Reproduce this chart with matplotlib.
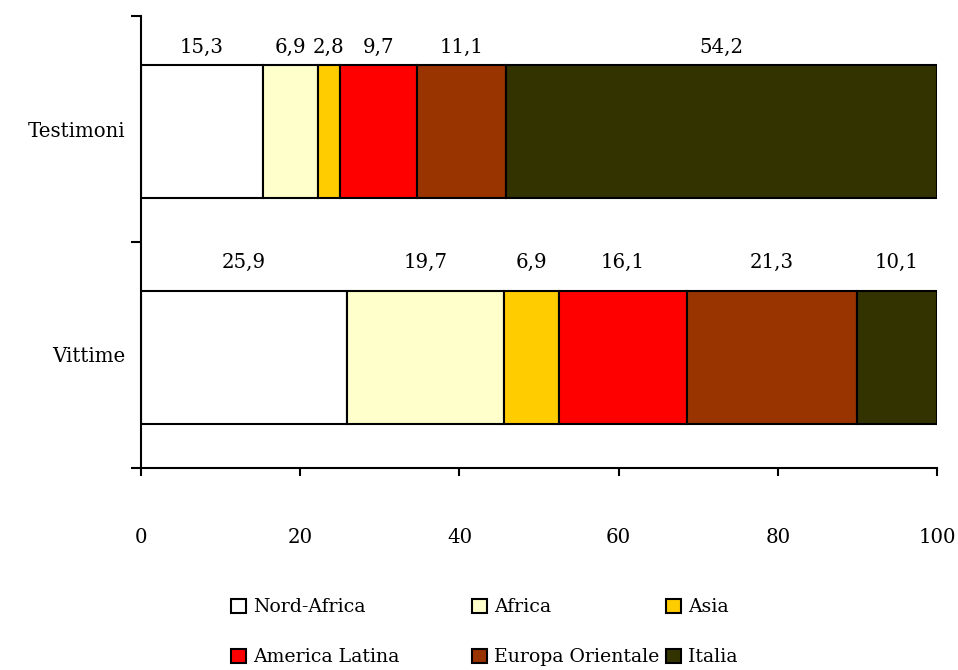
import numpy as np
import matplotlib
matplotlib.use('Agg')
import matplotlib.pyplot as plt

# data -------------------------------------------------------------------------
groups = ['Testimoni', 'Vittime']
regions = ['Nord-Africa', 'Africa', 'Asia', 'America Latina',
           'Europa Orientale', 'Italia']
testimoni = [15.3, 6.9, 2.8, 9.7, 11.1, 54.2]
vittime = [25.9, 19.7, 6.9, 16.1, 21.3, 10.1]
colors = ['#FFFFFF', '#FFFFCC', '#FFCC00', '#FF0000', '#993300', '#333300']

plt.rcParams['font.family'] = ['DejaVu Serif']
plt.rcParams['font.size'] = 14.2

values = np.array([testimoni, vittime])   # rows = groups, cols = regions
ypos = np.arange(len(groups))

fig = plt.figure(figsize=(9.58, 6.70), dpi=100)
ax = fig.add_axes([0.1472, 0.3015, 0.831, 0.6746])

left = np.zeros(len(groups))
bars = []
for j, reg in enumerate(regions):
    b = ax.barh(ypos + 0.01, values[:, j], left=left, height=0.59,
                color=colors[j], edgecolor='black', linewidth=1.5,
                label=reg, zorder=2)
    bars.append(b)
    # value labels above each segment
    for i in range(len(groups)):
        off = -0.36 if i == 0 else -0.41
        ax.text(left[i] + values[i, j] / 2, ypos[i] + off,
                f'{values[i, j]:.1f}'.replace('.', ','),
                ha='center', va='center')
    left = left + values[:, j]

ax.set_xlim(0, 100)
ax.set_ylim(1.5, -0.5)
ax.set_xticks(np.arange(0, 101, 20))
ax.tick_params(axis='x', direction='out', length=6, width=1.5, pad=37)

# category boundaries as major ticks, names on minor ticks
ax.set_yticks([-0.5, 0.5, 1.5])
ax.set_yticklabels([])
ax.set_yticks(ypos, minor=True)
ax.set_yticklabels(groups, minor=True)
ax.tick_params(axis='y', which='major', direction='out', length=7, width=1.5)
ax.tick_params(axis='y', which='minor', length=0, pad=11)

for s in ['top', 'right']:
    ax.spines[s].set_visible(False)
for s in ['left', 'bottom']:
    ax.spines[s].set_linewidth(1.5)

# legend: one small legend per column, like the fixed Excel columns
col_x = [0.2411, 0.4927, 0.6952]
for c in range(3):
    idx = [c, c + 3]
    fig.legend([bars[k] for k in idx], [regions[k] for k in idx],
               loc='upper left', bbox_to_anchor=(col_x[c], 0.107),
               frameon=False, borderpad=0, borderaxespad=0,
               handlelength=0.8, handleheight=0.8, handletextpad=0.35,
               labelspacing=1.7, fontsize=13.6)

fig.savefig('out.png', dpi=100)
